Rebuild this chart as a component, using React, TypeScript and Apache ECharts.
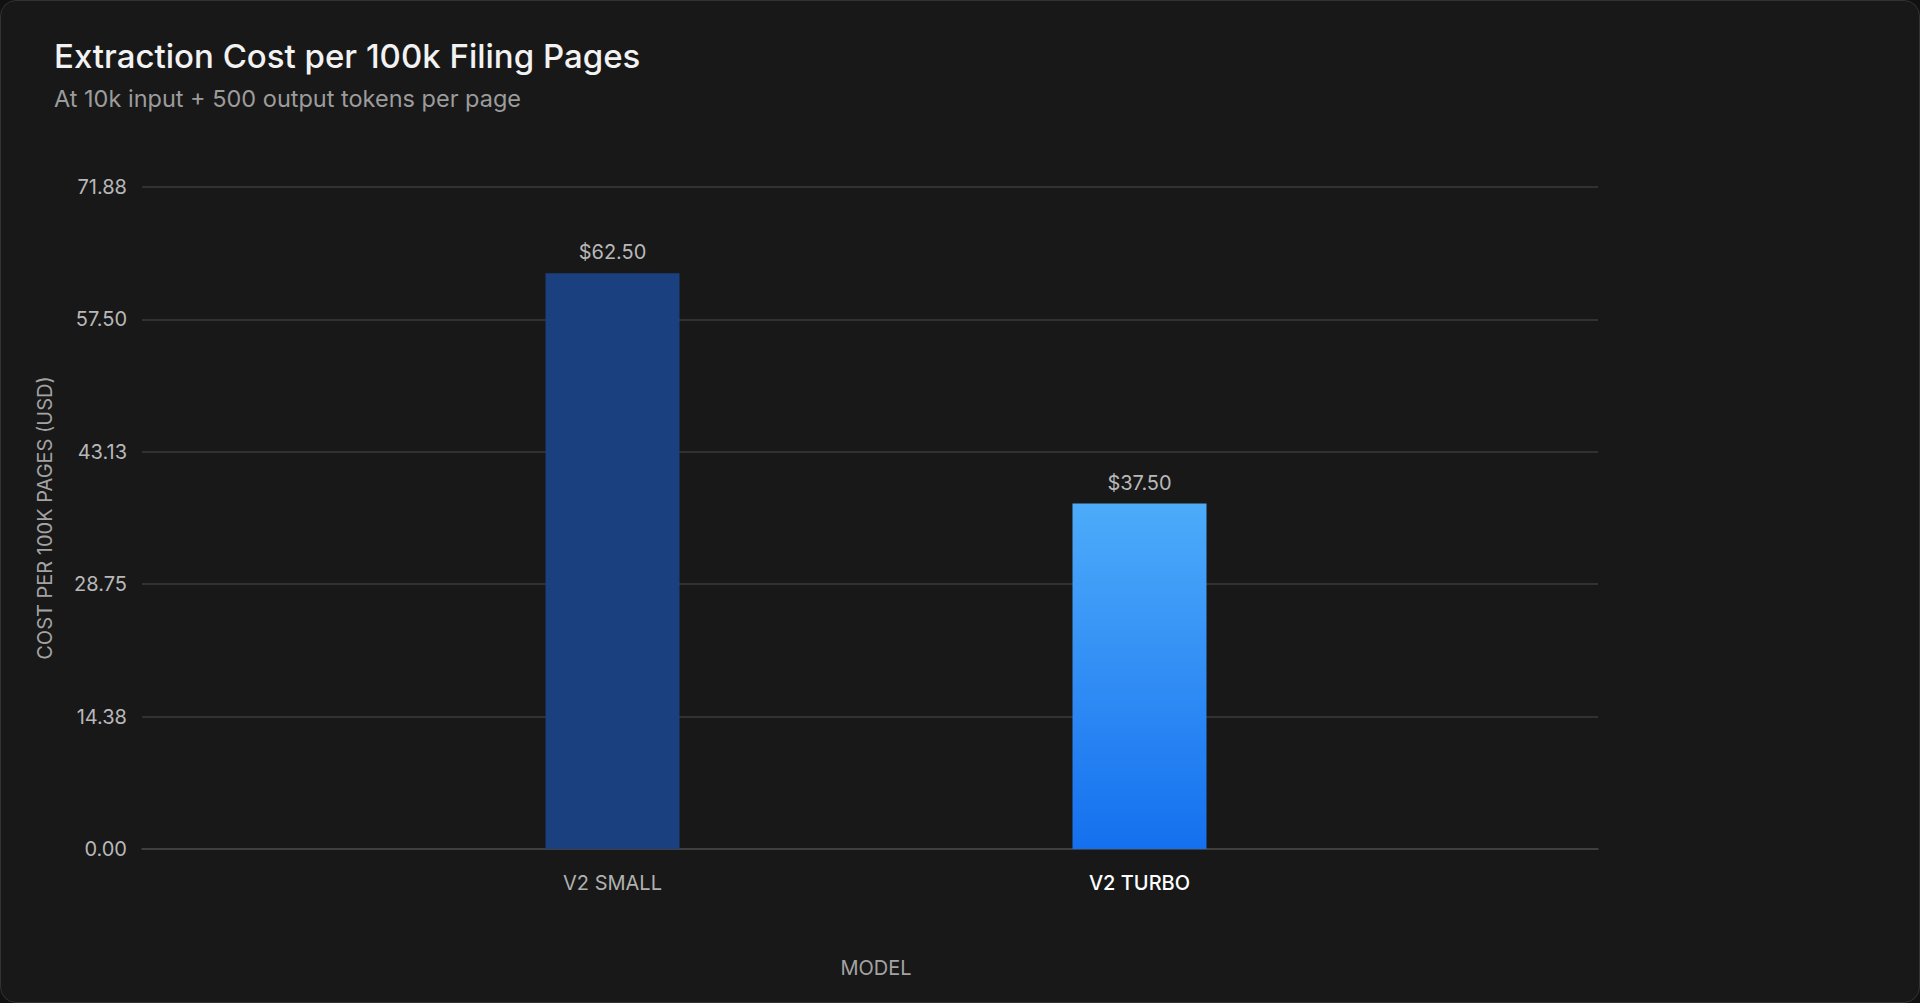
import React, { useEffect, useRef } from 'react';
import * as echarts from 'echarts';

const categories = ['V2 SMALL', 'V2 TURBO'];
const costs = [62.5, 37.5];
const highlighted = 'V2 TURBO';
const yMax = 71.875;
const yStep = 14.375;

const FONT = 'Inter, "Noto Sans", sans-serif';

const App: React.FC = () => {
  const chartRef = useRef<HTMLDivElement>(null);

  useEffect(() => {
    document.body.style.margin = '0';
    document.body.style.background = '#111111';
    if (!chartRef.current) return;

    const chart = echarts.init(chartRef.current, undefined, { renderer: 'svg' });

    const option = {
      animation: false,
      backgroundColor: 'transparent',
      textStyle: { fontFamily: FONT },
      title: [
        {
          text: 'Extraction Cost per 100k Filing Pages',
          left: 53,
          top: 38,
          padding: 0,
          textStyle: { color: '#f2f2f2', fontSize: 33, fontWeight: 500, fontFamily: FONT }
        },
        {
          text: 'At 10k input + 500 output tokens per page',
          left: 53,
          top: 85,
          padding: 0,
          textStyle: { color: '#9c9c9c', fontSize: 23.5, fontWeight: 400, fontFamily: FONT }
        }
      ],
      grid: [
        { left: 141, right: 321, top: 186, bottom: 153 },
        { left: 348, right: 516, top: 186, bottom: 153 }
      ],
      xAxis: [
        {
          type: 'category',
          gridIndex: 0,
          data: categories,
          name: 'MODEL',
          nameLocation: 'middle',
          nameGap: 109,
          nameTextStyle: {
            color: '#a3a3a3',
            fontSize: 20,
            fontFamily: FONT,
            padding: [0, 0, 0, 12]
          },
          axisLine: { show: true, lineStyle: { color: '#444444', width: 1.5 } },
          axisTick: { show: false },
          axisLabel: { show: false },
          splitLine: { show: false }
        },
        {
          type: 'category',
          gridIndex: 1,
          data: categories.map((c) =>
            c === highlighted
              ? { value: c, textStyle: { color: '#ffffff', fontWeight: 500 } }
              : { value: c }
          ),
          axisLine: { show: false },
          axisTick: { show: false },
          axisLabel: {
            margin: 24,
            color: '#b0b0b0',
            fontSize: 20,
            fontFamily: FONT
          }
        }
      ],
      yAxis: [
        {
          type: 'value',
          gridIndex: 0,
          min: 0,
          max: yMax,
          interval: yStep,
          name: 'COST PER 100K PAGES (USD)',
          nameLocation: 'middle',
          nameGap: 87,
          nameTextStyle: { color: '#a3a3a3', fontSize: 20, fontFamily: FONT },
          axisLine: { show: false },
          axisTick: { show: false },
          axisLabel: {
            margin: 15,
            color: '#b8b8b8',
            fontSize: 20,
            fontFamily: FONT,
            formatter: (v: number) => v.toFixed(2)
          },
          splitLine: { show: true, lineStyle: { color: '#3a3a3a', width: 1.5 } }
        },
        {
          type: 'value',
          gridIndex: 1,
          min: 0,
          max: yMax,
          interval: yStep,
          show: false,
          splitLine: { show: false }
        }
      ],
      series: [
        {
          type: 'bar',
          xAxisIndex: 1,
          yAxisIndex: 1,
          barWidth: 134,
          data: costs.map((v, i) => ({
            value: v,
            itemStyle: {
              color:
                categories[i] === highlighted
                  ? new echarts.graphic.LinearGradient(0, 0, 0, 1, [
                      { offset: 0, color: '#4dabfa' },
                      { offset: 1, color: '#1570ef' }
                    ])
                  : '#1a4080'
            }
          })),
          label: {
            show: true,
            position: 'top',
            distance: 11,
            color: '#b8b8b8',
            fontSize: 20,
            fontFamily: FONT,
            formatter: (p: any) => '$' + Number(p.value).toFixed(2)
          }
        }
      ]
    };

    chart.setOption(option);

    const handleResize = () => chart.resize();
    window.addEventListener('resize', handleResize);

    return () => {
      window.removeEventListener('resize', handleResize);
      chart.dispose();
    };
  }, []);

  return (
    <div
      style={{
        position: 'fixed',
        inset: 0,
        boxSizing: 'border-box',
        background: '#181818',
        border: '1px solid #333333',
        borderRadius: 16,
        overflow: 'hidden'
      }}
    >
      <div ref={chartRef} style={{ width: '100%', height: '100%' }} />
    </div>
  );
};

export default App;
